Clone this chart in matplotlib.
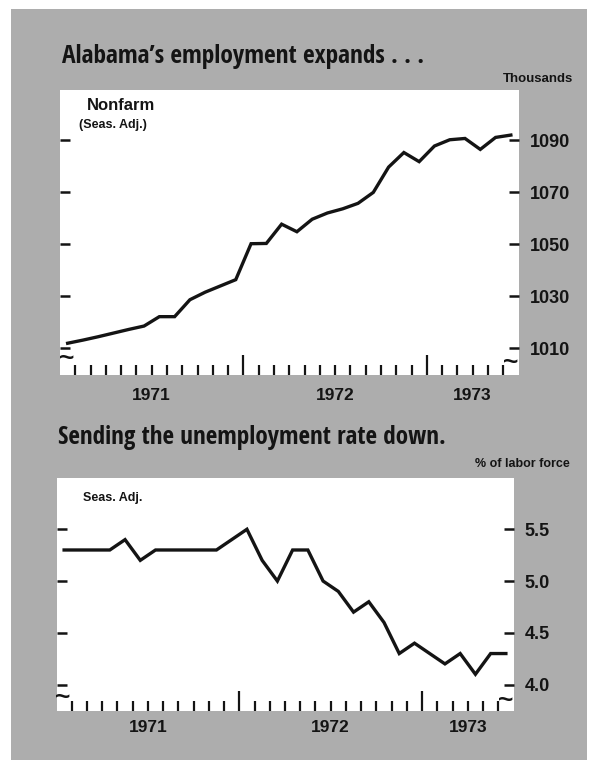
import matplotlib
matplotlib.use("Agg")
import matplotlib.pyplot as plt
from matplotlib import font_manager as fm
from matplotlib.ft2font import FT2Font
from matplotlib.patches import Rectangle
import numpy as np

W, H = 591, 760

# ── data: monthly, Jan 1971 – Jun 1973 ───────────────────────────────────────
YEARS = ["1971", "1972", "1973"]
YEAR_MONTHS = [12, 12, 6]          # months shown per year

NONFARM = [1012.0, 1013.2, 1014.5, 1015.9, 1017.3, 1018.6,
           1022.2, 1022.2, 1028.7, 1031.6, 1034.0, 1036.4,
           1050.2, 1050.3, 1057.7, 1054.8, 1059.6, 1062.0,
           1063.6, 1065.7, 1069.9, 1079.6, 1085.2, 1081.7,
           1087.7, 1090.1, 1090.6, 1086.4, 1091.0, 1091.9]

UNEMP = [5.3, 5.3, 5.3, 5.3, 5.4, 5.2,
         5.3, 5.3, 5.3, 5.3, 5.3, 5.4,
         5.5, 5.2, 5.0, 5.3, 5.3, 5.0,
         4.9, 4.7, 4.8, 4.6, 4.3, 4.4,
         4.3, 4.2, 4.3, 4.1, 4.3, 4.3]

NONFARM_TICKS = [1010, 1030, 1050, 1070, 1090]
UNEMP_TICKS = [4.0, 4.5, 5.0, 5.5]
UNEMP_LABELS = ["4.0", "4.5", "5.0", "5.5"]

TITLE_TOP = "Alabama\u2019s employment expands . . ."
TITLE_BOTTOM = "Sending the unemployment rate down."

GRAY = "#adadad"
INK = "#141414"
SANS = ["Liberation Sans", "DejaVu Sans"]
TITLE_FAMILIES = ("dejavu sans", "liberation sans", "roboto", "open sans",
                  "lato", "inter", "noto sans")


def box(left, top, right, bottom):
    return [left / W, 1 - bottom / H, (right - left) / W, (bottom - top) / H]


def fx(x):
    return x / W


def fy(y):
    return 1 - y / H


def covers(fname, text):
    try:
        cmap = FT2Font(fname).get_charmap()
    except Exception:
        return False
    return all(ord(c) in cmap for c in set(text))


def condensed_bold(fig, sample):
    # narrowest bold latin sans face installed (condensed faces win)
    r = fig.canvas.get_renderer()
    best, best_w = fm.FontProperties(family=SANS, weight="bold"), None
    for f in fm.fontManager.ttflist:
        if not f.name.lower().startswith(TITLE_FAMILIES):
            continue
        if f.weight not in ("bold", 700) or f.style != "normal":
            continue
        if not covers(f.fname, sample):
            continue
        t = fig.text(0, 0, sample, fontproperties=fm.FontProperties(fname=f.fname, size=16))
        w = t.get_window_extent(renderer=r).width
        t.remove()
        if best_w is None or w < best_w:
            best, best_w = fm.FontProperties(fname=f.fname), w
    return best


def fit_width(fig, txt, target_px):
    r = fig.canvas.get_renderer()
    w = txt.get_window_extent(renderer=r).width
    txt.set_fontsize(txt.get_fontsize() * target_px / w)


def panel(ax, values, ylim, yticks, ylabels):
    n = len(values)
    x = np.arange(n) + 0.5
    ax.set_facecolor("white")
    ax.plot(x, values, color=INK, lw=2.4, solid_joinstyle="miter")
    ax.set_xlim(0, n)
    ax.set_ylim(*ylim)
    for s in ax.spines.values():
        s.set_visible(False)

    # month boundary ticks, taller at year boundaries
    bounds = np.cumsum(YEAR_MONTHS)[:-1]
    ax.set_xticks(bounds)
    ax.set_xticks([m for m in range(1, n) if m not in bounds], minor=True)
    ax.tick_params(axis="x", which="major", direction="in", length=14.5,
                   width=1.6, color=INK, labelbottom=False)
    ax.tick_params(axis="x", which="minor", direction="in", length=7.5,
                   width=1.6, color=INK)

    ax.set_yticks(yticks)
    ax.set_yticklabels(ylabels)
    ax.tick_params(axis="y", which="both", left=True, right=True,
                   labelleft=False, labelright=True, direction="in",
                   length=7, width=1.8, color=INK, pad=8)
    for t in ax.get_yticklabels():
        t.set_fontfamily(SANS)
        t.set_fontweight("bold")
        t.set_fontsize(13)
        t.set_color(INK)

    # year labels centred on the visible part of each year
    start = 0
    for yr, m in zip(YEARS, YEAR_MONTHS):
        ax.text(start + m / 2, -0.075, yr, transform=ax.get_xaxis_transform(),
                ha="center", va="center", fontsize=12.5, fontweight="bold",
                family=SANS, color=INK)
        start += m

    # axis break marks
    for xa, ya in [(0.014, 0.055), (0.983, 0.04)]:
        ax.text(xa, ya, "~", transform=ax.transAxes, ha="center", va="center",
                fontsize=19, fontweight="bold", family=SANS, color=INK)


fig = plt.figure(figsize=(W / 100, H / 100), dpi=100)
fig.patch.set_facecolor("white")
fig.add_artist(Rectangle((fx(10.5), 0), fx(586.5) - fx(10.5), fy(9),
                         transform=fig.transFigure, facecolor=GRAY,
                         edgecolor="none", zorder=0))
title_font = condensed_bold(fig, TITLE_TOP + TITLE_BOTTOM)

# ── top panel: nonfarm employment ──
ax1 = fig.add_axes(box(60, 90, 518.5, 374.5))
panel(ax1, NONFARM, (1000, 1109.2), NONFARM_TICKS,
      [str(t) for t in NONFARM_TICKS])
ax1.text(0.058, 0.93, "Nonfarm", transform=ax1.transAxes, fontsize=12,
         fontweight="bold", family=SANS, color=INK, va="baseline")
ax1.text(0.042, 0.865, "(Seas. Adj.)", transform=ax1.transAxes, fontsize=9,
         fontweight="bold", family=SANS, color=INK, va="baseline")

t1 = fig.text(fx(62), fy(63), TITLE_TOP, fontproperties=title_font,
              color=INK, va="baseline")
t1.set_fontsize(16)
fit_width(fig, t1, 363)
fig.text(fx(573), fy(82), "Thousands", fontsize=9.5, fontweight="bold",
         family=SANS, color=INK, ha="right", va="baseline")

# ── bottom panel: unemployment rate ──
ax2 = fig.add_axes(box(56.5, 477.5, 513.5, 710.5))
panel(ax2, UNEMP, (3.75, 6.0), UNEMP_TICKS, UNEMP_LABELS)
ax2.text(0.058, 0.9, "Seas. Adj.", transform=ax2.transAxes, fontsize=9,
         fontweight="bold", family=SANS, color=INK, va="baseline")

t2 = fig.text(fx(58), fy(444), TITLE_BOTTOM, fontproperties=title_font,
              color=INK, va="baseline")
t2.set_fontsize(16)
fit_width(fig, t2, 389)
fig.text(fx(570), fy(467), "% of labor force", fontsize=9, fontweight="bold",
         family=SANS, color=INK, ha="right", va="baseline")

fig.savefig("out.png", dpi=100, facecolor=fig.get_facecolor())
